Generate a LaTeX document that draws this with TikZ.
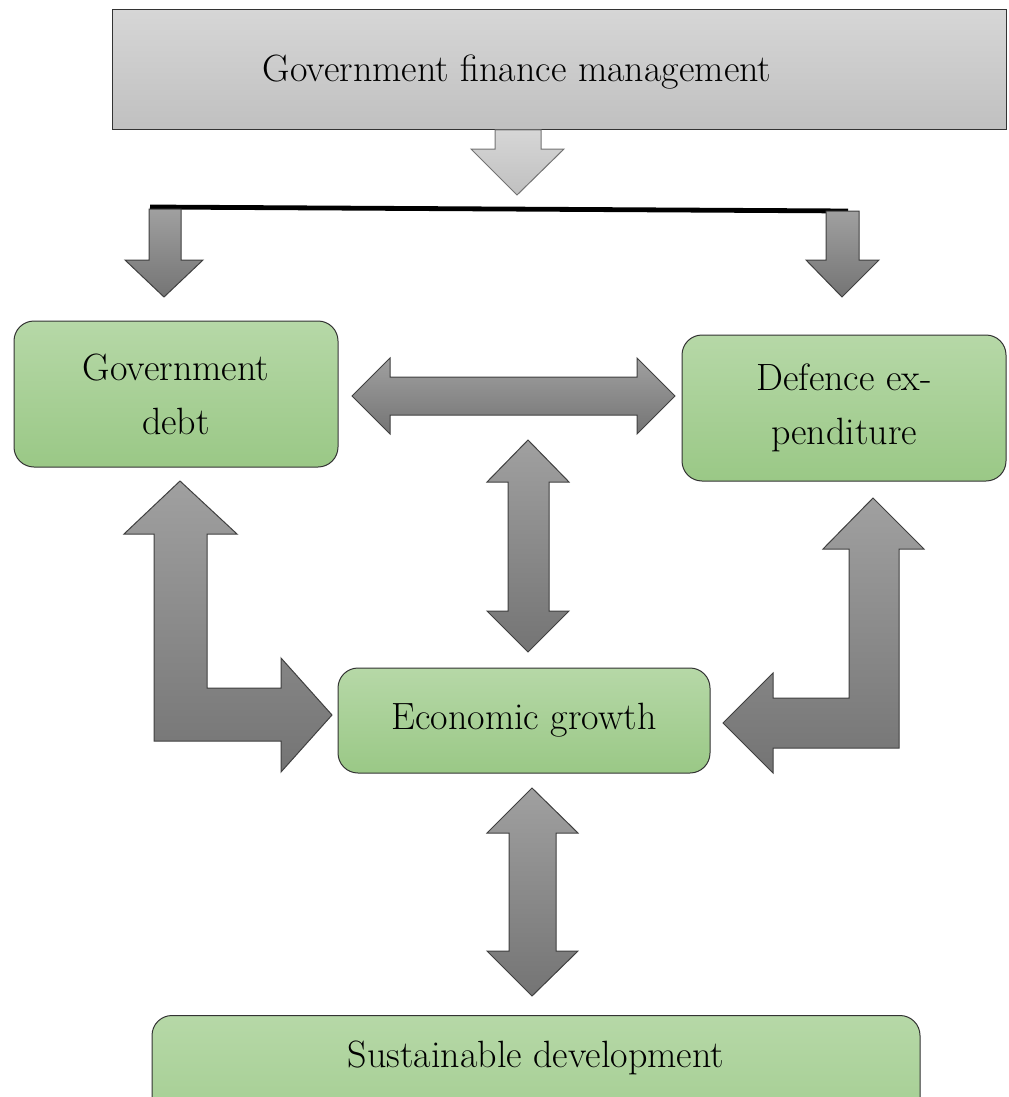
\documentclass[tikz,border=0pt]{standalone}
\usepackage{fontspec}
\definecolor{greenA}{RGB}{182,216,167}
\definecolor{greenB}{RGB}{154,200,134}
\definecolor{darkA}{RGB}{160,160,160}
\definecolor{darkB}{RGB}{116,116,116}
\definecolor{lightA}{RGB}{214,214,214}
\definecolor{lightB}{RGB}{192,192,192}
\begin{document}
\begin{tikzpicture}[x=0.5pt,y=-0.5pt,
    txt/.style={font=\fontsize{19}{27}\selectfont, align=center},
    box/.style={txt, draw=black!80, line width=0.5pt, rounded corners=10pt,
        top color=greenA, bottom color=greenB, inner sep=0pt},
    blockarrow/.style={draw=black!75, line width=0.5pt, top color=darkA, bottom color=darkB},
    lightarrow/.style={draw=black!55, line width=0.5pt, top color=lightA, bottom color=lightB}]
    \useasboundingbox (0,0) rectangle (1008,1097);

    % top box
    \path[draw=black!80, line width=0.5pt, top color=lightA, bottom color=lightB]
        (112,10) rectangle (1006,130);
    \node[txt] (gfm) at (517,72) {Government finance management};
    \path[lightarrow] (495,130) -- (495,149) -- (471,149) -- (517,195)
        -- (564,149) -- (541,149) -- (541,130) -- cycle;

    % split bar
    \draw[line width=2.4pt] (150,207) -- (848,211);
    \path[blockarrow] (149,209) -- (149,260) -- (125,260) -- (164,297)
        -- (203,260) -- (181,260) -- (181,209) -- cycle;
    \path[blockarrow] (826,211) -- (826,260) -- (806,260) -- (842,297)
        -- (879,260) -- (859,260) -- (859,211) -- cycle;

    \node[box, minimum width=162pt, minimum height=73pt] (debt) at (176,394) {Government\\debt};
    \node[box, minimum width=162pt, minimum height=73pt] (def) at (844,408) {Defence ex-\\penditure};
    \node[box, minimum width=186pt, minimum height=52.5pt] (eg) at (524,720.5) {Economic growth};
    \node[box, anchor=north, minimum width=384pt, text height=26pt, text depth=60pt]
        (sd) at (536,1015) {Sustainable development};

    % debt <-> defence
    \path[blockarrow] (352,396) -- (390,358) -- (390,377) -- (637,377) -- (637,358)
        -- (675,396) -- (637,434) -- (637,415) -- (390,415) -- (390,434) -- cycle;
    % middle <-> growth
    \path[blockarrow] (528,440) -- (569,482) -- (549,482) -- (549,611) -- (569,611)
        -- (528,652) -- (487,611) -- (508,611) -- (508,482) -- (487,482) -- cycle;
    % debt <-> growth
    \path[blockarrow] (154,534) -- (124,534) -- (180,481) -- (237,534) -- (207,534)
        -- (207,688) -- (281,688) -- (281,658) -- (332,715) -- (281,772)
        -- (281,741) -- (154,741) -- cycle;
    % defence <-> growth
    \path[blockarrow] (849,549) -- (823,549) -- (873,498) -- (924,549) -- (899,549)
        -- (899,748) -- (773,748) -- (773,773) -- (723,723) -- (773,673)
        -- (773,698) -- (849,698) -- cycle;
    % growth <-> sustainable
    \path[blockarrow] (532,788) -- (578,833) -- (556,833) -- (556,951) -- (578,951)
        -- (532,996) -- (487,951) -- (509,951) -- (509,833) -- (487,833) -- cycle;
\end{tikzpicture}
\end{document}
